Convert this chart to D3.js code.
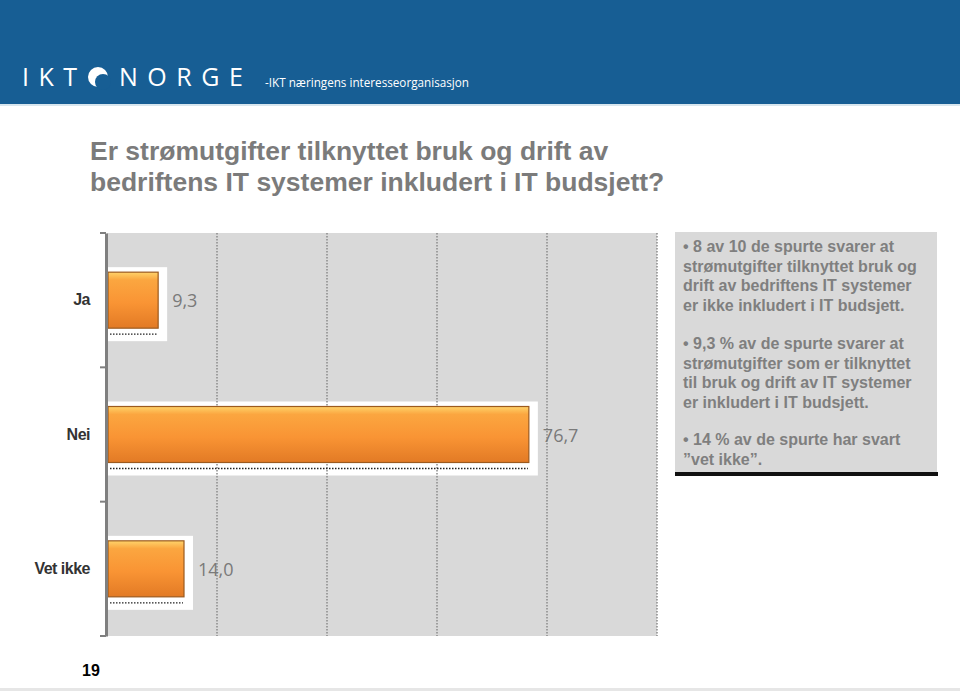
<!DOCTYPE html>
<html>
<head>
<meta charset="utf-8">
<script src="https://cdn.jsdelivr.net/npm/d3@7"></script>
<style>
  body { margin: 0; background: #fff; }
  svg { display: block; }
</style>
</head>
<body>
<svg id="chart" width="960" height="691"></svg>
<script>
// data
const categories = ["Ja", "Nei", "Vet ikke"];
const values = [9.3, 76.7, 14.0];
const valueLabels = ["9,3", "76,7", "14,0"];
const gridTicks = [20, 40, 60, 80, 100];
const titleLines = [
  "Er strømutgifter tilknyttet bruk og drift av",
  "bedriftens IT systemer inkludert i IT budsjett?"
];
const notes = [
  ["• 8 av 10 de spurte svarer at", "strømutgifter tilknyttet bruk og", "drift av bedriftens IT systemer", "er ikke inkludert i IT budsjett."],
  ["• 9,3 % av de spurte svarer at", "strømutgifter som er tilknyttet", "til bruk og drift av IT systemer", "er inkludert i IT budsjett."],
  ["• 14 % av de spurte har svart", "”vet ikke”."]
];

const svg = d3.select("#chart");

// header band
svg.append("rect").attr("x", 0).attr("y", 0).attr("width", 960).attr("height", 104).attr("fill", "#175e94");
svg.append("rect").attr("x", 0).attr("y", 104).attr("width", 960).attr("height", 2).attr("fill", "#d8e6ee");

const logo = svg.append("g").attr("fill", "#fff").style("font-family", "'Open Sans', sans-serif");
logo.append("text").attr("x", 22).attr("y", 86).style("font-size", "25px").style("letter-spacing", "9.5px").text("IKT");
logo.append("text").attr("x", 119).attr("y", 86).style("font-size", "25px").style("letter-spacing", "9.5px").text("NORGE");
logo.append("circle").attr("cx", 98).attr("cy", 77).attr("r", 10).attr("fill", "#fff");
logo.append("circle").attr("cx", 103).attr("cy", 82).attr("r", 8).attr("fill", "#175e94");
logo.append("text").attr("x", 265).attr("y", 87).style("font-size", "11.7px").text("-IKT næringens interesseorganisasjon");

// title
svg.append("g").selectAll("text").data(titleLines).join("text")
  .attr("x", 90).attr("y", (d, i) => 160 + i * 31)
  .attr("fill", "#7b7b7b")
  .style("font-family", "'Liberation Sans', Arial, sans-serif")
  .style("font-weight", "bold").style("font-size", "26.5px")
  .text(d => d);

// scales
const x = d3.scaleLinear().domain([0, 100]).range([107, 657]);
const y = d3.scaleBand().domain(categories).range([233, 636]);
const barH = 56;

// defs
const defs = svg.append("defs");
const grad = defs.append("linearGradient").attr("id", "barGrad").attr("x1", 0).attr("y1", 0).attr("x2", 0).attr("y2", 1);
grad.append("stop").attr("offset", "0%").attr("stop-color", "#ffd36a");
grad.append("stop").attr("offset", "14%").attr("stop-color", "#fba640");
grad.append("stop").attr("offset", "55%").attr("stop-color", "#f99434");
grad.append("stop").attr("offset", "100%").attr("stop-color", "#e27a25");

// plot background
svg.append("rect").attr("x", x(0)).attr("y", y.range()[0])
  .attr("width", x(100) - x(0)).attr("height", y.range()[1] - y.range()[0])
  .attr("fill", "#d9d9d9");

// white boxes behind bars
const rows = categories.map((c, i) => ({ c, v: values[i], label: valueLabels[i] }));
svg.append("g").selectAll("rect").data(rows).join("rect")
  .attr("x", x(0)).attr("y", d => y(d.c) + y.bandwidth() / 2 - barH / 2 - 5)
  .attr("width", d => x(d.v) - x(0) + 9).attr("height", barH + 18)
  .attr("fill", "#fff");

// gridlines
svg.append("g").selectAll("line").data(gridTicks).join("line")
  .attr("x1", d => x(d)).attr("x2", d => x(d))
  .attr("y1", y.range()[0]).attr("y2", y.range()[1])
  .attr("stroke", "#8a8a8a").attr("stroke-width", 1.5).attr("stroke-dasharray", "1.5,1.5");

// bars
const bars = svg.append("g");
bars.selectAll("rect.bar").data(rows).join("rect").attr("class", "bar")
  .attr("x", x(0) + 1).attr("y", d => y(d.c) + y.bandwidth() / 2 - barH / 2)
  .attr("width", d => x(d.v) - x(0) - 1).attr("height", barH)
  .attr("fill", "url(#barGrad)").attr("stroke", "#9c5a1e").attr("stroke-width", 1.2);
bars.selectAll("line.dot").data(rows).join("line").attr("class", "dot")
  .attr("x1", x(0) + 3).attr("x2", d => x(d.v) - 1)
  .attr("y1", d => y(d.c) + y.bandwidth() / 2 + barH / 2 + 6)
  .attr("y2", d => y(d.c) + y.bandwidth() / 2 + barH / 2 + 6)
  .attr("stroke", "#222").attr("stroke-width", 1.3).attr("stroke-dasharray", "1.5,1.5");

// value labels
svg.append("g").selectAll("text").data(rows).join("text")
  .attr("x", d => x(d.v) + 14).attr("y", d => y(d.c) + y.bandwidth() / 2 + 7)
  .attr("fill", "#7a7a7a")
  .style("font-family", "'Open Sans', sans-serif").style("font-size", "18px")
  .text(d => d.label);

// y axis
const yAxis = svg.append("g").attr("transform", `translate(${x(0) - 1},0)`)
  .call(d3.axisLeft(y).tickSize(0).tickPadding(16));
yAxis.select(".domain").attr("stroke", "#7f7f7f").attr("stroke-width", 3);
yAxis.selectAll("text").attr("fill", "#333")
  .style("font-family", "'Liberation Sans', Arial, sans-serif")
  .style("font-weight", "bold").style("font-size", "16px").style("letter-spacing", "-0.5px");
// band boundary ticks
const bounds = [y.range()[0]].concat(categories.map(c => y(c) + y.bandwidth()));
yAxis.append("g").selectAll("line").data(bounds).join("line")
  .attr("x1", -6).attr("x2", 0).attr("y1", d => d).attr("y2", d => d)
  .attr("stroke", "#7f7f7f").attr("stroke-width", 2);

// notes box
svg.append("rect").attr("x", 675).attr("y", 232).attr("width", 262).attr("height", 241).attr("fill", "#d9d9d9");
svg.append("rect").attr("x", 675).attr("y", 472).attr("width", 263).attr("height", 4).attr("fill", "#111");
const noteG = svg.append("g").attr("fill", "#7f7f7f")
  .style("font-family", "'Liberation Sans', Arial, sans-serif")
  .style("font-weight", "bold").style("font-size", "16px");
const blockY = [252, 349, 445];
notes.forEach((block, bi) => {
  block.forEach((line, li) => {
    noteG.append("text").attr("x", 683).attr("y", blockY[bi] + li * 19.5).text(line);
  });
});

// page number & footer line
svg.append("text").attr("x", 82).attr("y", 676).attr("fill", "#000")
  .style("font-family", "'Liberation Sans', Arial, sans-serif").style("font-weight", "bold").style("font-size", "16px")
  .text("19");
svg.append("rect").attr("x", 0).attr("y", 688).attr("width", 960).attr("height", 3).attr("fill", "#e6e6e6");
</script>
</body>
</html>
